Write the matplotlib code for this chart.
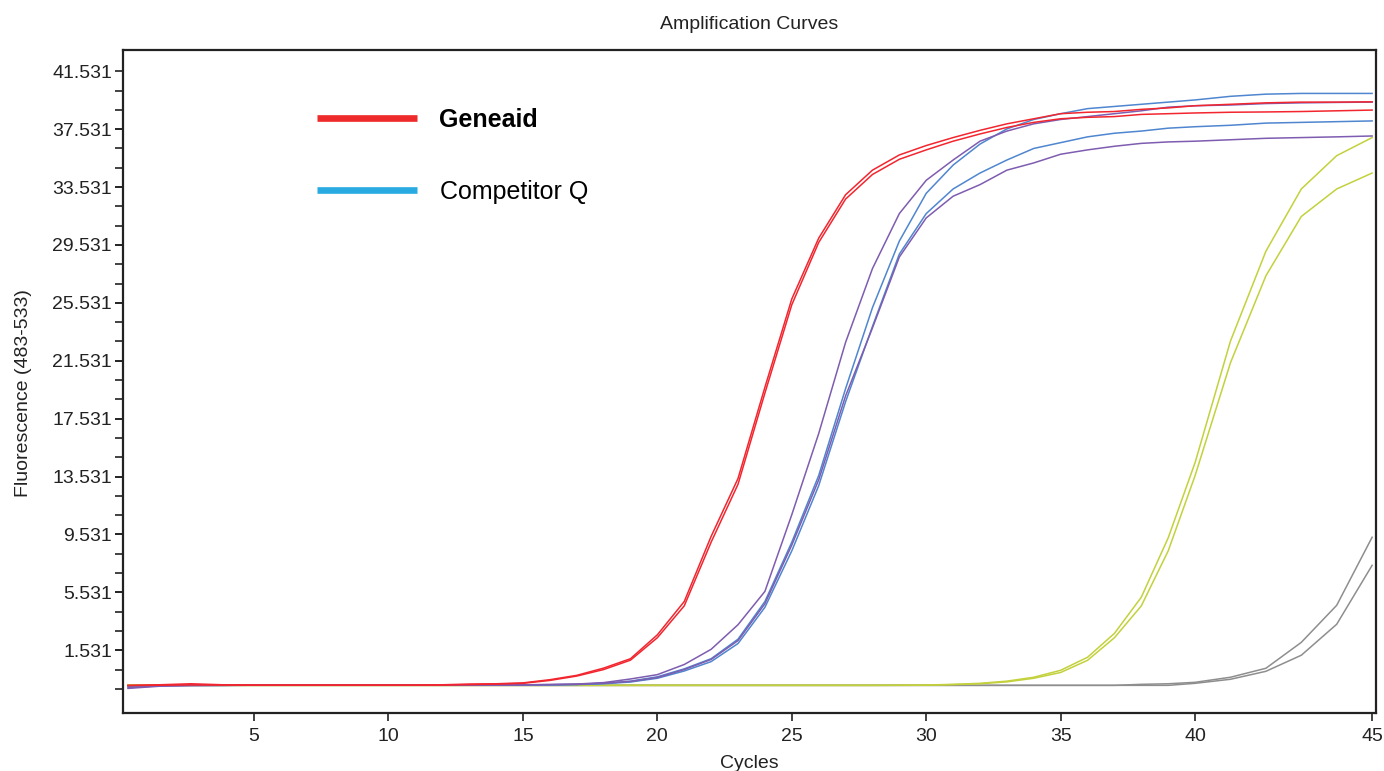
import numpy as np
import matplotlib.pyplot as plt
from matplotlib.lines import Line2D
from matplotlib.ticker import FixedLocator, NullLocator, FormatStrFormatter

plt.rcParams['font.family'] = ['Liberation Sans', 'DejaVu Sans']

cycles = np.arange(1, 46)

# fluorescence per cycle
red_a = [-0.9, -0.85, -0.78, -0.85, -0.87, -0.87, -0.87, -0.87, -0.87, -0.87, -0.87, -0.85, -0.8, -0.78, -0.72,
         -0.5, -0.2, 0.3, 0.95, 2.6, 4.9, 9.4, 13.4, 19.7, 25.8, 30.0, 33.0, 34.7, 35.75, 36.4,
         36.95, 37.45, 37.9, 38.25, 38.6, 38.7, 38.75, 38.9, 39.0, 39.15, 39.25, 39.35, 39.4, 39.4, 39.42]
red_b = [-0.9, -0.88, -0.86, -0.87, -0.88, -0.88, -0.88, -0.88, -0.88, -0.88, -0.88, -0.87, -0.84, -0.8, -0.75,
         -0.55, -0.25, 0.2, 0.85, 2.4, 4.6, 9.0, 13.0, 19.3, 25.4, 29.7, 32.7, 34.4, 35.45, 36.1,
         36.7, 37.2, 37.65, 38.0, 38.25, 38.35, 38.4, 38.55, 38.6, 38.65, 38.7, 38.72, 38.75, 38.8, 38.85]
purple_a = [-1.1, -0.95, -0.9, -0.89, -0.87, -0.87, -0.87, -0.87, -0.87, -0.87, -0.87, -0.87, -0.87, -0.86, -0.85,
            -0.83, -0.8, -0.7, -0.45, -0.15, 0.55, 1.6, 3.3, 5.6, 10.9, 16.5, 22.8, 27.9, 31.7, 34.0,
            35.4, 36.7, 37.4, 37.9, 38.2, 38.4, 38.6, 38.8, 39.05, 39.15, 39.2, 39.3, 39.35, 39.38, 39.4]
purple_b = [-1.05, -0.92, -0.89, -0.88, -0.87, -0.87, -0.87, -0.87, -0.87, -0.87, -0.87, -0.87, -0.87, -0.87, -0.86,
            -0.84, -0.82, -0.74, -0.62, -0.35, 0.2, 0.9, 2.2, 4.75, 8.8, 13.3, 19.1, 23.8, 28.7, 31.4,
            32.9, 33.7, 34.7, 35.2, 35.8, 36.1, 36.35, 36.55, 36.65, 36.7, 36.8, 36.9, 36.95, 37.0, 37.06]
blue_a = [-0.95, -0.9, -0.89, -0.89, -0.88, -0.88, -0.88, -0.88, -0.88, -0.88, -0.88, -0.88, -0.88, -0.88, -0.87,
          -0.85, -0.82, -0.75, -0.6, -0.3, 0.25, 0.95, 2.3, 4.9, 9.0, 13.6, 19.6, 25.2, 29.8, 33.1,
          35.05, 36.5, 37.55, 38.2, 38.6, 38.95, 39.1, 39.25, 39.4, 39.55, 39.8, 39.95, 40.0, 40.0, 40.0]
blue_b = [-0.95, -0.9, -0.89, -0.89, -0.88, -0.88, -0.88, -0.88, -0.88, -0.88, -0.88, -0.88, -0.88, -0.88, -0.88,
          -0.87, -0.84, -0.78, -0.66, -0.4, 0.1, 0.75, 2.0, 4.5, 8.4, 12.9, 18.7, 23.9, 28.9, 31.7,
          33.4, 34.5, 35.4, 36.2, 36.6, 37.0, 37.25, 37.4, 37.6, 37.7, 37.8, 37.95, 38.0, 38.05, 38.1]
yellow_a = [-0.85, -0.88, -0.89, -0.89, -0.89, -0.89, -0.89, -0.89, -0.89, -0.89, -0.89, -0.89, -0.89, -0.89, -0.89,
            -0.89, -0.89, -0.89, -0.89, -0.89, -0.89, -0.89, -0.89, -0.89, -0.89, -0.89, -0.89, -0.89, -0.88, -0.87,
            -0.82, -0.75, -0.6, -0.33, 0.15, 1.05, 2.7, 5.2, 9.3, 14.5, 22.9, 29.1, 33.4, 35.7, 36.95]
yellow_b = [-0.86, -0.88, -0.89, -0.89, -0.89, -0.89, -0.89, -0.89, -0.89, -0.89, -0.89, -0.89, -0.89, -0.89, -0.89,
            -0.89, -0.89, -0.89, -0.89, -0.89, -0.89, -0.89, -0.89, -0.89, -0.89, -0.89, -0.89, -0.89, -0.89, -0.88,
            -0.84, -0.78, -0.65, -0.4, 0.0, 0.84, 2.4, 4.6, 8.4, 13.6, 21.4, 27.4, 31.5, 33.4, 34.5]
gray_a = [-0.89] * 37 + [-0.82, -0.78, -0.68, -0.33, 0.29, 2.08, 4.64, 9.34]
gray_b = [-0.89] * 39 + [-0.75, -0.47, 0.08, 1.19, 3.33, 7.4]

series = [
    (gray_b, '#8e8e8e'), (gray_a, '#8e8e8e'),
    (yellow_b, '#c3d13c'), (yellow_a, '#c3d13c'),
    (blue_b, '#4f86cf'), (blue_a, '#4f86cf'),
    (purple_b, '#7e5cb0'), (purple_a, '#7e5cb0'),
    (red_b, '#f2262f'), (red_a, '#f2262f'),
]

legend_labels = ['Geneaid', 'Competitor Q']
legend_colors = ['#ee2a2a', '#29abe2']

x_ticks = [5, 10, 15, 20, 25, 30, 35, 40, 45]
y_ticks = [1.531, 5.531, 9.531, 13.531, 17.531, 21.531, 25.531, 29.531, 33.531, 37.531, 41.531]

# the exported chart draws the first and last cycles wider than the middle ones
anchor_cycle = [0, 1, 5, 40, 45, 50]
anchor_pos = [96.5, 128, 254, 1195, 1372, 1549]


def fwd(x):
    return np.interp(x, anchor_cycle, anchor_pos)


def inv(u):
    return np.interp(u, anchor_pos, anchor_cycle)


fig = plt.figure(figsize=(13.84, 7.71), dpi=100)
ax = fig.add_axes([123/1384, 1 - 713/771, (1376 - 123)/1384, (713 - 50)/771])
ax.set_xscale('function', functions=(fwd, inv))

for vals, col in series:
    ax.plot(cycles, vals, color=col, lw=1.1)

ax.set_xlim(0.84, 45.11)
ax.set_ylim(-2.8, 43.0)

ax.xaxis.set_major_locator(FixedLocator(x_ticks))
ax.xaxis.set_minor_locator(NullLocator())
ax.xaxis.set_major_formatter(FormatStrFormatter('%d'))
ax.yaxis.set_major_locator(FixedLocator(y_ticks))
ax.yaxis.set_minor_locator(FixedLocator(np.arange(-1.135, 41, 4/3)))
ax.yaxis.set_major_formatter(FormatStrFormatter('%.3f'))

ax.tick_params(axis='both', which='both', direction='out', length=6, width=1.2,
               color='#222222', labelcolor='#222222', labelsize=14)
ax.tick_params(axis='x', pad=5)
ax.tick_params(axis='y', pad=2)
for s in ax.spines.values():
    s.set_linewidth(1.6)
    s.set_color('#222222')

ax.set_title('Amplification Curves', fontsize=14, color='#222222', pad=15)
ax.set_xlabel('Cycles', fontsize=14, color='#222222', labelpad=7)
ax.set_ylabel('Fluorescence (483-533)', fontsize=14, color='#222222')
ax.yaxis.set_label_coords(-0.0725, 0.483)

handles = [Line2D([], [], color=c, lw=4.8, solid_capstyle='butt') for c in legend_colors]
leg = ax.legend(handles, legend_labels, loc='upper left',
                bbox_to_anchor=(317/1384, 1 - 108/771), bbox_transform=fig.transFigure,
                frameon=False, fontsize=18, handlelength=4.0, handletextpad=0.9,
                labelspacing=1.9, borderpad=0, borderaxespad=0)
leg.get_texts()[0].set_fontweight('bold')

fig.savefig('out.png', dpi=100)
